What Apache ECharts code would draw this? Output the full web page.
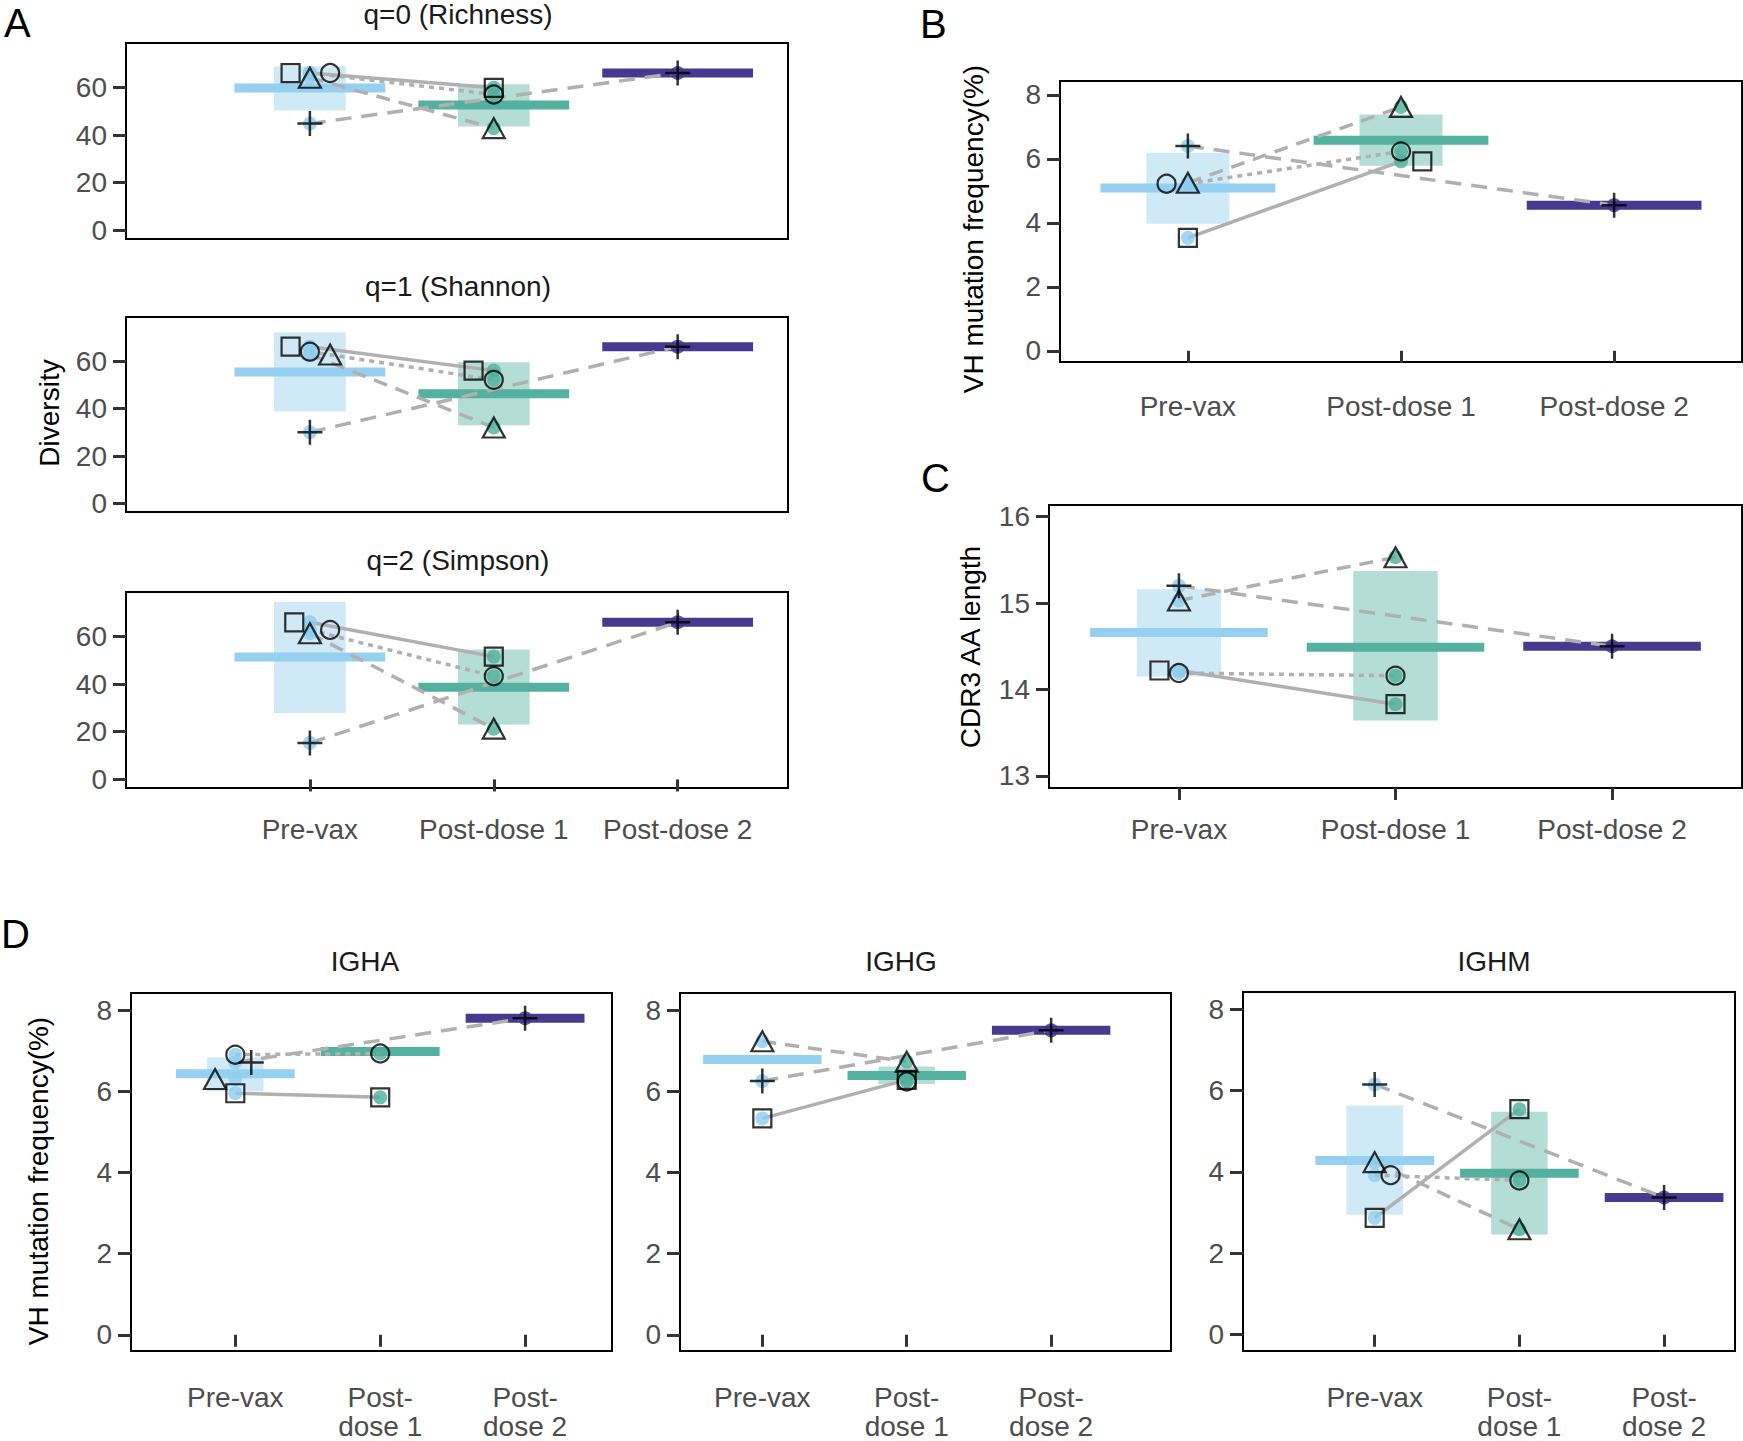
<!DOCTYPE html>
<html>
<head>
<meta charset="utf-8">
<title>Diversity, VH mutation and CDR3 length</title>
<script src="https://cdn.jsdelivr.net/npm/echarts@6/dist/echarts.min.js"></script>
<style>
  html, body { margin: 0; padding: 0; background: #fff; }
  #chart { width: 1743px; height: 1441px; }
</style>
</head>
<body>
<div id="chart"></div>
<script>
// time points
const timeLabels = ['Pre-vax', 'Post-dose 1', 'Post-dose 2'];
const timeLabelsD = ['Pre-vax', 'Post-\ndose 1', 'Post-\ndose 2'];

// tick labels
const ticksDiversity = [0, 20, 40, 60];
const ticksMutation = [0, 2, 4, 6, 8];
const ticksCdr3 = [13, 14, 15, 16];

// A: diversity, q=0 (per subject: pre, post-dose 1, post-dose 2)
const q0Square = [66.0, 59.8, null];
const q0Circle = [66.0, 57.0, null];
const q0Triangle = [64.0, 42.9, null];
const q0Cross = [44.8, null, 66.0];
const q0Mean = [59.7, 52.6, 66.0];
const q0SeLow = [50.3, 43.6, null];
const q0SeHigh = [68.8, 61.3, null];

// A: q=1
const q1Square = [66.1, 56.0, null];
const q1Circle = [64.0, 52.1, null];
const q1Triangle = [62.8, 32.0, null];
const q1Cross = [30.0, null, 66.1];
const q1Mean = [55.4, 46.2, 66.1];
const q1SeLow = [38.8, 33.0, null];
const q1SeHigh = [72.2, 59.5, null];

// A: q=2
const q2Square = [65.9, 51.5, null];
const q2Circle = [62.7, 43.3, null];
const q2Triangle = [61.3, 21.3, null];
const q2Cross = [15.3, null, 65.9];
const q2Mean = [51.3, 38.7, 65.9];
const q2SeLow = [27.9, 23.0, null];
const q2SeHigh = [74.5, 54.5, null];

// B: VH mutation frequency
const bSquare = [3.53, 5.92, null];
const bCircle = [5.22, 6.23, null];
const bTriangle = [5.25, 7.62, null];
const bCross = [6.40, null, 4.55];
const bMean = [5.09, 6.58, 4.55];
const bSeLow = [3.97, 5.78, null];
const bSeHigh = [6.19, 7.38, null];

// C: CDR3 AA length
const cSquare = [14.22, 13.83, null];
const cCircle = [14.19, 14.16, null];
const cTriangle = [15.03, 15.53, null];
const cCross = [15.20, null, 14.50];
const cMean = [14.66, 14.49, 14.50];
const cSeLow = [14.15, 13.64, null];
const cSeHigh = [15.16, 15.37, null];

// D: IGHA
const ighaSquare = [5.95, 5.85, null];
const ighaCircle = [6.90, 6.93, null];
const ighaTriangle = [6.30, null, null];
const ighaCross = [6.71, null, 7.80];
const ighaMean = [6.43, 6.98, 7.80];
const ighaSeLow = [6.00, null, null];
const ighaSeHigh = [6.84, null, null];

// D: IGHG
const ighgSquare = [5.33, 6.28, null];
const ighgCircle = [null, 6.24, null];
const ighgTriangle = [7.23, 6.73, null];
const ighgCross = [6.25, null, 7.50];
const ighgMean = [6.78, 6.39, 7.50];
const ighgSeLow = [null, 6.18, null];
const ighgSeHigh = [null, 6.61, null];

// D: IGHM
const ighmSquare = [2.87, 5.54, null];
const ighmCircle = [3.92, 3.79, null];
const ighmTriangle = [4.24, 2.59, null];
const ighmCross = [6.15, null, 3.37];
const ighmMean = [4.28, 3.97, 3.37];
const ighmSeLow = [2.95, 2.46, null];
const ighmSeHigh = [5.63, 5.48, null];

const FONT = '"Liberation Sans", Arial, sans-serif';
const groupBar = ['#96d0f0', '#54b1a0', '#47398f'];
const groupSe = ['#d0e9f6', '#b4ddd5', '#c4bfe0'];
const groupDot = ['#8fcdef', '#4faf9c', '#3f3490'];
// order: square, circle, triangle, cross
const shapes = [
  { symbol: 'rect', size: 18, dash: 'solid' },
  { symbol: 'circle', size: 18, dash: [5, 5] },
  { symbol: 'triangle', size: [22, 20], dash: [14, 9] },
  { symbol: 'path://M9,0H11V9H20V11H11V20H9V11H0V9H9Z', size: 25, dash: [16, 10] }
];

const panels = [
  { box: [126, 43, 662, 196], xr: [0, 3.6], yr: [-3.6, 78.6], ticks: ticksDiversity, labels: null, margin: 27,
    subj: [q0Square, q0Circle, q0Triangle, q0Cross], mean: q0Mean, lo: q0SeLow, hi: q0SeHigh,
    jitter: [[-0.105, 0], [0.11, 0], [0, 0], [0, 0]] },
  { box: [126, 317, 662, 195], xr: [0, 3.6], yr: [-3.6, 78.6], ticks: ticksDiversity, labels: null, margin: 27,
    subj: [q1Square, q1Circle, q1Triangle, q1Cross], mean: q1Mean, lo: q1SeLow, hi: q1SeHigh,
    jitter: [[-0.105, -0.11], [0, 0], [0.11, 0], [0, 0]] },
  { box: [126, 592, 662, 196], xr: [0, 3.6], yr: [-3.6, 78.6], ticks: ticksDiversity, labels: timeLabels, margin: 27,
    subj: [q2Square, q2Circle, q2Triangle, q2Cross], mean: q2Mean, lo: q2SeLow, hi: q2SeHigh,
    jitter: [[-0.085, 0], [0.11, 0], [0, 0], [0, 0]] },
  { box: [1060, 81, 682, 281], xr: [0.4, 3.6], yr: [-0.35, 8.43], ticks: ticksMutation, labels: timeLabels, margin: 30,
    subj: [bSquare, bCircle, bTriangle, bCross], mean: bMean, lo: bSeLow, hi: bSeHigh,
    jitter: [[0, 0.1], [-0.1, 0], [0, 0], [0, 0]] },
  { box: [1049, 505, 693, 283], xr: [0.4, 3.6], yr: [12.86, 16.135], ticks: ticksCdr3, labels: timeLabels, margin: 27,
    subj: [cSquare, cCircle, cTriangle, cCross], mean: cMean, lo: cSeLow, hi: cSeHigh,
    jitter: [[-0.09, 0], [0, 0], [0, 0], [0, 0]] },
  { box: [131, 993, 481, 361], xr: [0.28, 3.6], yr: [-0.4, 8.42], ticks: ticksMutation, labels: timeLabelsD, margin: 32,
    subj: [ighaSquare, ighaCircle, ighaTriangle, ighaCross], mean: ighaMean, lo: ighaSeLow, hi: ighaSeHigh,
    jitter: [[0, 0], [0, 0], [-0.14, 0], [0.11, 0]] },
  { box: [680, 993, 491, 361], xr: [0.43, 3.83], yr: [-0.4, 8.42], ticks: ticksMutation, labels: timeLabelsD, margin: 32,
    subj: [ighgSquare, ighgCircle, ighgTriangle, ighgCross], mean: ighgMean, lo: ighgSeLow, hi: ighgSeHigh,
    jitter: [[0, 0], [0, 0], [0, 0], [0, 0]] },
  { box: [1243, 992, 492, 360], xr: [0.09, 3.49], yr: [-0.4, 8.42], ticks: ticksMutation, labels: timeLabelsD, margin: 32,
    subj: [ighmSquare, ighmCircle, ighmTriangle, ighmCross], mean: ighmMean, lo: ighmSeLow, hi: ighmSeHigh,
    jitter: [[0, 0], [0.11, 0], [0, 0], [0, 0]] }
];

const grid = [], xAxis = [], yAxis = [], series = [];

panels.forEach(function (p, i) {
  const showX = !!p.labels;
  grid.push({ left: p.box[0], top: p.box[1], width: p.box[2], height: p.box[3],
    show: true, borderColor: '#000', borderWidth: 2, backgroundColor: 'transparent' });
  xAxis.push({
    gridIndex: i, type: 'value', min: p.xr[0], max: p.xr[1],
    axisLine: { show: false }, splitLine: { show: false },
    axisTick: { show: showX, customValues: [1, 2, 3], length: 12, lineStyle: { color: '#333', width: 3 } },
    axisLabel: { show: showX, customValues: [1, 2, 3], margin: p.margin, fontSize: 28, lineHeight: 29,
      color: '#4d4d4d', fontFamily: FONT,
      formatter: function (v) { return showX ? p.labels[Math.round(v) - 1] : ''; } }
  });
  yAxis.push({
    gridIndex: i, type: 'value', min: p.yr[0], max: p.yr[1],
    axisLine: { show: false }, splitLine: { show: false },
    axisTick: { customValues: p.ticks, length: 13, lineStyle: { color: '#333', width: 3 } },
    axisLabel: { customValues: p.ticks, margin: 19, fontSize: 28, color: '#4d4d4d', fontFamily: FONT }
  });

  // mean bar with standard error box
  series.push({
    type: 'custom', xAxisIndex: i, yAxisIndex: i, z: 1, silent: true,
    data: p.mean.map(function (m, t) { return [t + 1, m]; }),
    renderItem: function (params, api) {
      const t = params.dataIndex;
      const x = api.value(0), m = api.value(1);
      const children = [];
      if (p.lo[t] != null && p.hi[t] != null) {
        const a = api.coord([x - 0.195, p.hi[t]]);
        const b = api.coord([x + 0.195, p.lo[t]]);
        children.push({ type: 'rect', shape: { x: a[0], y: a[1], width: b[0] - a[0], height: b[1] - a[1] },
          style: { fill: groupSe[t] } });
      }
      const c = api.coord([x - 0.41, m]);
      const d = api.coord([x + 0.41, m]);
      children.push({ type: 'rect', shape: { x: c[0], y: c[1] - 4.5, width: d[0] - c[0], height: 9 },
        style: { fill: groupBar[t] } });
      return { type: 'group', children: children };
    }
  });

  // subject trajectories
  p.subj.forEach(function (vals, s) {
    const pts = [];
    vals.forEach(function (v, t) { if (v != null) pts.push([t + 1, v]); });
    if (pts.length > 1) {
      series.push({ type: 'line', xAxisIndex: i, yAxisIndex: i, z: 2, silent: true, data: pts,
        symbol: 'none', lineStyle: { color: '#b0b0b0', width: 3.5, type: shapes[s].dash } });
    }
  });

  // coloured dots
  const dots = [];
  p.subj.forEach(function (vals) {
    vals.forEach(function (v, t) {
      if (v != null) dots.push({ value: [t + 1, v], itemStyle: { color: groupDot[t] } });
    });
  });
  series.push({ type: 'scatter', xAxisIndex: i, yAxisIndex: i, z: 3, silent: true,
    symbol: 'circle', symbolSize: 14, data: dots });

  // subject shapes
  p.subj.forEach(function (vals, s) {
    const pts = [];
    vals.forEach(function (v, t) {
      if (v != null) pts.push([t + 1 + (t < 2 ? p.jitter[s][t] : 0), v]);
    });
    series.push({ type: 'scatter', xAxisIndex: i, yAxisIndex: i, z: 4, silent: true,
      symbol: shapes[s].symbol, symbolSize: shapes[s].size, data: pts,
      itemStyle: s === 3 ? { color: '#000' }
        : { color: 'rgba(0,0,0,0)', borderColor: '#000', borderWidth: 2.2 } });
  });
});

function txt(text, x, y, size, opts) {
  opts = opts || {};
  return { type: 'text', x: x, y: y, rotation: opts.rot || 0, silent: true,
    style: { text: text, fontSize: size, fontFamily: FONT, fill: opts.fill || '#000',
      align: opts.align || 'center', verticalAlign: 'middle' } };
}

const graphic = [
  txt('A', 4, 23, 40, { align: 'left' }),
  txt('B', 920, 24, 40, { align: 'left' }),
  txt('C', 921, 478, 40, { align: 'left' }),
  txt('D', 1, 934, 40, { align: 'left' }),
  txt('q=0 (Richness)', 458, 14, 28, { fill: '#1a1a1a' }),
  txt('q=1 (Shannon)', 458, 286, 28, { fill: '#1a1a1a' }),
  txt('q=2 (Simpson)', 458, 560, 28, { fill: '#1a1a1a' }),
  txt('IGHA', 365, 961, 28, { fill: '#1a1a1a' }),
  txt('IGHG', 901, 961, 28, { fill: '#1a1a1a' }),
  txt('IGHM', 1494, 961, 28, { fill: '#1a1a1a' }),
  txt('Diversity', 49, 413, 28, { rot: Math.PI / 2 }),
  txt('VH mutation frequency(%)', 973, 229, 28, { rot: Math.PI / 2 }),
  txt('CDR3 AA length', 970, 647, 28, { rot: Math.PI / 2 }),
  txt('VH mutation frequency(%)', 38, 1181, 28, { rot: Math.PI / 2 })
];

const chart = echarts.init(document.getElementById('chart'), null, { renderer: 'svg' });
chart.setOption({
  animation: false,
  backgroundColor: '#fff',
  textStyle: { fontFamily: FONT },
  grid: grid,
  xAxis: xAxis,
  yAxis: yAxis,
  series: series,
  graphic: graphic
});
</script>
</body>
</html>
